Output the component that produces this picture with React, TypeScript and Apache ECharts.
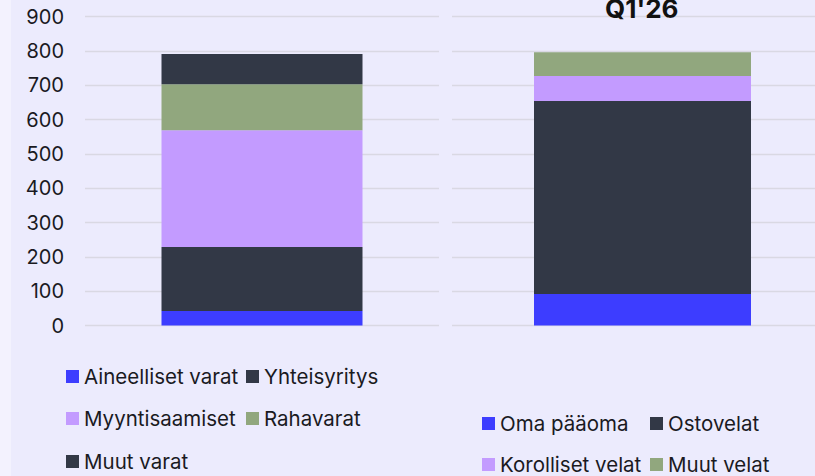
import React, { useEffect, useRef } from "react";
import * as echarts from "echarts";

const yTicks = [0, 100, 200, 300, 400, 500, 600, 700, 800, 900];

const assetNames = ["Aineelliset varat", "Yhteisyritys", "Myyntisaamiset", "Rahavarat", "Muut varat"];
const assetValues = [42, 187, 340, 134, 88];
const assetColors = ["#3d3dff", "#323846", "#c39bff", "#91a77e", "#323846"];

const liabNames = ["Oma pääoma", "Ostovelat", "Korolliset velat", "Muut velat"];
const liabValues = [92, 562, 73, 69];
const liabColors = ["#3d3dff", "#323846", "#c39bff", "#91a77e"];

const rightTitle = "Q1'26";

const FONT = "Inter";
const TEXT = "#1a1a1f";

export default function App() {
  const ref = useRef<HTMLDivElement>(null);
  useEffect(() => {
    document.body.style.margin = "0";
    const chart = echarts.init(ref.current!, null, { renderer: "svg" });
    const legendText = { fontFamily: FONT, fontSize: 20.5, color: TEXT };
    const legendBase = {
      orient: "horizontal" as const,
      icon: "rect",
      itemWidth: 13,
      itemHeight: 13,
      itemGap: 7,
      padding: 0,
      textStyle: legendText,
      selectedMode: false,
    };
    const yAxisBase = {
      type: "value" as const,
      min: 0,
      max: 900,
      interval: 100,
      axisLine: { show: false },
      axisTick: { show: false },
      splitLine: { lineStyle: { color: "#d9d8e3", width: 1.3 } },
    };
    const leg = (name: string, left: number, top: number) => ({ ...legendBase, data: [name], left, top });
    const option: any = {
      animation: false,
      backgroundColor: "#f3f2fe",
      textStyle: { fontFamily: FONT },
      graphic: [
        {
          type: "rect",
          shape: { x: 11, y: 0, width: 815, height: 476 },
          style: { fill: "#ecebfd" },
          z: -10,
          silent: true,
        },
      ],
      title: {
        text: rightTitle,
        left: 605,
        top: -5,
        padding: 0,
        textStyle: { fontFamily: FONT, fontSize: 26, fontWeight: "bold", color: "#111" },
      },
      grid: [
        { left: 85, width: 354, top: 16.5, height: 309 },
        { left: 452, width: 381, top: 16.5, height: 309, outerBoundsMode: "none" },
      ],
      xAxis: [
        { type: "category", gridIndex: 0, data: [""], axisLine: { show: false }, axisTick: { show: false }, axisLabel: { show: false } },
        { type: "category", gridIndex: 1, data: [""], axisLine: { show: false }, axisTick: { show: false }, axisLabel: { show: false } },
      ],
      yAxis: [
        {
          ...yAxisBase,
          gridIndex: 0,
          axisLabel: {
            fontFamily: FONT,
            fontSize: 20,
            color: TEXT,
            margin: 21,
            formatter: (v: number) => (yTicks.includes(v) ? String(v) : ""),
          },
        },
        { ...yAxisBase, gridIndex: 1, axisLabel: { show: false } },
      ],
      legend: [
        leg(assetNames[0], 66, 366),
        leg(assetNames[1], 246, 366),
        leg(assetNames[2], 66, 408),
        leg(assetNames[3], 246, 408),
        leg(assetNames[4], 66, 451),
        leg(liabNames[0], 482, 413),
        leg(liabNames[1], 650, 413),
        leg(liabNames[2], 482, 454),
        leg(liabNames[3], 650, 454),
      ],
      series: [
        ...assetNames.map((n, i) => ({
          name: n,
          type: "bar",
          stack: "assets",
          xAxisIndex: 0,
          yAxisIndex: 0,
          barWidth: 201,
          itemStyle: { color: assetColors[i] },
          data: [assetValues[i]],
        })),
        ...liabNames.map((n, i) => ({
          name: n,
          type: "bar",
          stack: "liab",
          xAxisIndex: 1,
          yAxisIndex: 1,
          barWidth: 217,
          itemStyle: { color: liabColors[i] },
          data: [liabValues[i]],
        })),
      ],
    };
    chart.setOption(option);
    return () => chart.dispose();
  }, []);
  return <div ref={ref} style={{ width: 815, height: 476 }} />;
}
